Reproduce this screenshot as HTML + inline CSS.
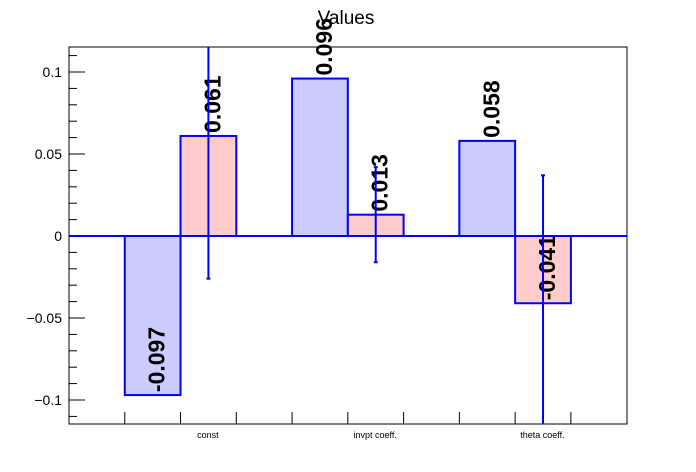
<!DOCTYPE html>
<html><head><meta charset="utf-8"><style>
body{margin:0;background:#fff}
svg{display:block;font-family:"Liberation Sans",sans-serif}
</style></head><body>
<svg id="c" width="696" height="472"></svg>
<script>
const categories=["const","invpt coeff.","theta coeff."];
const blueValues=[-0.097,0.096,0.058];
const pinkValues=[0.061,0.013,-0.041];
const pinkErrors=[0.087,0.029,0.078];
const yTicks=[-0.1,-0.05,0,0.05,0.1];
const yTickLabels=["\u22120.1","\u22120.05","0","0.05","0.1"];
const L=69,R=627,T=47,B=424,Y0=236,SC=1640;
const bin=167.3,bw=bin/3;
const y=v=>Y0-v*SC;
const clamp=v=>Math.max(T,Math.min(B,v));
const svg=document.getElementById('c');
const NS="http://www.w3.org/2000/svg";
function mk(t,a,p){const e=document.createElementNS(NS,t);for(const k in a)e.setAttribute(k,a[k]);(p||svg).appendChild(e);return e;}
let e;
e=mk('rect',{x:L,y:T,width:R-L,height:B-T,fill:'#fff',stroke:'#000','stroke-width':1});


e=mk('text',{x:346,y:24,'font-size':19,'text-anchor':'middle'});e.textContent='Values';


// y ticks
for(let v=-0.11;v<=0.111;v+=0.01){const yy=y(v);if(yy<T||yy>B)continue;
 const major=Math.abs(Math.round(v*100)%5)===0;
 mk('line',{x1:L,x2:L+(major?16:8),y1:yy,y2:yy,stroke:'#000'});}
yTicks.forEach((v,i)=>{e=mk('text',{x:L-7,y:y(v)+5,'font-size':14,'text-anchor':'end'});e.textContent=yTickLabels[i];
 
 });
// x ticks
for(let i=1;i<=9;i++){const xx=L+i*bw;mk('line',{x1:xx,x2:xx,y1:B,y2:B-12,stroke:'#000'});}
categories.forEach((c,i)=>{e=mk('text',{x:L+i*bin+bin*0.83,y:438,'font-size':9,'text-anchor':'middle'});e.textContent=c;
 
 });
function bar(i,v,off,fill,name){const x=L+i*bin+off*bw;const y1=y(Math.max(v,0)),y2=y(Math.min(v,0));
 e=mk('rect',{x:x,y:y1,width:bw,height:y2-y1,fill:fill,stroke:'#0000ff','stroke-width':2});
 
 
 e=mk('text',{x:0,y:0,'font-size':23,'font-weight':'bold','dominant-baseline':'central',transform:`translate(${x+bw/2+4},${y(v)-3}) rotate(-90)`});
 e.textContent=v.toFixed(3);
 
 }
blueValues.forEach((v,i)=>bar(i,v,1,'#ccccff','blue-bar'));
pinkValues.forEach((v,i)=>bar(i,v,2,'#ffcccc','pink-bar'));
e=mk('line',{x1:L,x2:R,y1:Y0,y2:Y0,stroke:'#0000ff','stroke-width':2});


pinkValues.forEach((v,i)=>{const cx=L+i*bin+2.5*bw;const a=clamp(y(v+pinkErrors[i])),b=clamp(y(v-pinkErrors[i]));
 e=mk('line',{x1:cx,x2:cx,y1:a,y2:b,stroke:'#0000ff','stroke-width':2});
 
 
 if(a>T)mk('line',{x1:cx-2,x2:cx+2,y1:a,y2:a,stroke:'#0000ff','stroke-width':2});
 if(b<B)mk('line',{x1:cx-2,x2:cx+2,y1:b,y2:b,stroke:'#0000ff','stroke-width':2});});
</script>
</body></html>
